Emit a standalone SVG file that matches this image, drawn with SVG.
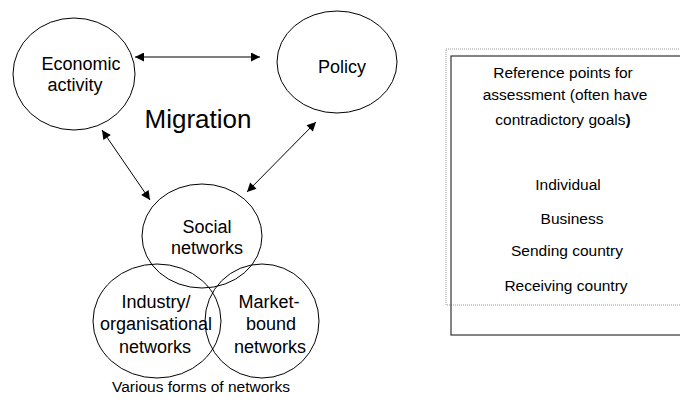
<svg xmlns="http://www.w3.org/2000/svg" width="680" height="403" viewBox="0 0 680 403">
<style>
.n{fill:none;stroke:#000;stroke-width:1}
.t{font-family:"Liberation Sans",Arial,sans-serif;font-size:18px;fill:#000;text-anchor:middle}
.s{font-family:"Liberation Sans",Arial,sans-serif;font-size:15.5px;fill:#000;text-anchor:middle}
.c{stroke:#000;stroke-width:1;fill:none}
</style>
<defs>
<marker id="ah" viewBox="0 0 10 10" refX="10" refY="5" markerWidth="11" markerHeight="9" markerUnits="userSpaceOnUse" orient="auto-start-reverse">
<path d="M0,0 L10,5 L0,10 z" fill="#000"/>
</marker>
</defs>
<rect width="680" height="403" fill="#fff"/>
<g id="connectors">
<line x1="135" y1="57" x2="260" y2="57" stroke="#555" stroke-width="1.6" marker-start="url(#ah)" marker-end="url(#ah)"/>
<line x1="102" y1="130" x2="150" y2="200" class="c" marker-start="url(#ah)" marker-end="url(#ah)"/>
<line x1="316" y1="122" x2="247" y2="192" class="c" marker-start="url(#ah)" marker-end="url(#ah)"/>
</g>
<g id="economic">
<ellipse cx="74" cy="74" rx="61" ry="56" class="n"/>
<text class="t" x="81" y="70">Economic</text>
<text class="t" x="75" y="91">activity</text>
</g>
<g id="policy">
<ellipse cx="337" cy="62" rx="60" ry="51" class="n"/>
<text class="t" x="342" y="73">Policy</text>
</g>
<text id="migration" x="198" y="128" font-family="Liberation Sans, Arial, sans-serif" font-size="26" text-anchor="middle">Migration</text>
<g id="social">
<ellipse cx="202" cy="236" rx="60" ry="52" class="n"/>
<text class="t" x="207" y="233">Social</text>
<text class="t" x="207" y="254">networks</text>
</g>
<g id="industry">
<ellipse cx="157" cy="321" rx="64" ry="57" class="n"/>
<text class="t" x="156" y="308">Industry/</text>
<text class="t" x="156" y="330">organisational</text>
<text class="t" x="155" y="353">networks</text>
</g>
<g id="market">
<ellipse cx="262" cy="321" rx="57" ry="57" class="n"/>
<text class="t" x="269" y="308">Market-</text>
<text class="t" x="271" y="330">bound</text>
<text class="t" x="270" y="353">networks</text>
</g>
<text id="caption" class="s" x="201" y="392">Various forms of networks</text>
<g id="reference">
<rect x="446" y="49" width="250" height="256" fill="none" stroke="#999" stroke-width="1" stroke-dasharray="1,1"/>
<rect x="451" y="56" width="250" height="279" fill="none" stroke="#333" stroke-width="1.2"/>
<text class="s" x="563" y="78">Reference points for</text>
<text class="s" x="565" y="100">assessment (often have</text>
<text class="s" x="563" y="125">contradictory goals<tspan font-weight="bold">)</tspan></text>
<text class="s" x="568" y="190">Individual</text>
<text class="s" x="572" y="224">Business</text>
<text class="s" x="567" y="256">Sending country</text>
<text class="s" x="566" y="291">Receiving country</text>
</g>
</svg>
